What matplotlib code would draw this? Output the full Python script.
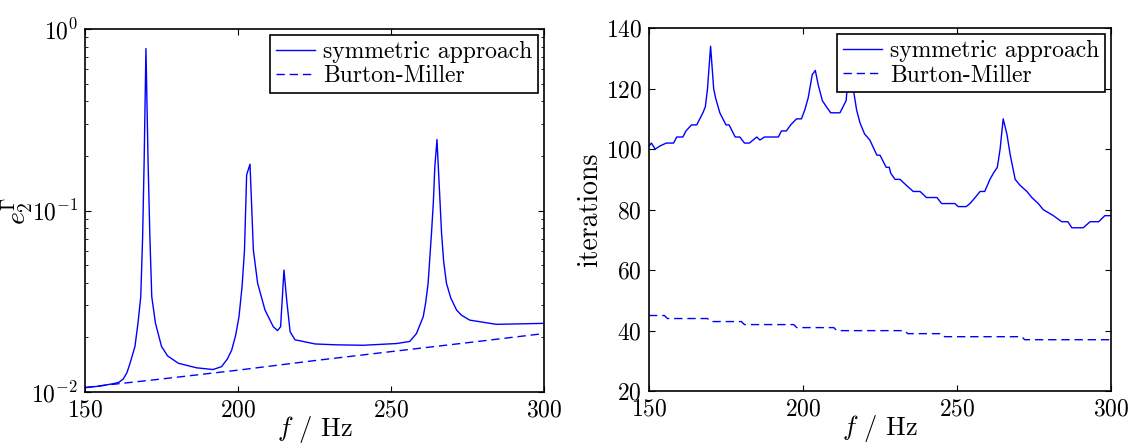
import matplotlib
matplotlib.use("Agg")
import matplotlib.pyplot as plt

# LaTeX-ish look
plt.rcParams['font.family'] = 'serif'
plt.rcParams['font.serif'] = ['cmr10']
plt.rcParams['mathtext.fontset'] = 'cm'
plt.rcParams['axes.formatter.use_mathtext'] = True
plt.rcParams['axes.unicode_minus'] = False

# left panel: error e_2^Gamma, symmetric approach
f_err_sym = [150, 155, 159, 161, 162.5, 163.7, 164.7, 166.3, 167.3, 168.2, 168.8, 169.3, 169.9,
             170.6, 171.2, 171.8, 173, 175, 177, 180.5, 186.4, 191.8, 194.6, 196.5,
             197.9, 199.2, 200.3, 201.3, 202.1, 202.8, 203.9, 204.5, 205, 206.4, 208.8,
             211.5, 212.9, 213.9, 215.0, 215.9, 217, 218.6, 225.2, 232, 240.9, 251.8,
             256.1, 258.3, 260.5, 261.3, 262.1, 263.2, 263.8, 264.3, 265, 265.7, 266.5,
             267.2, 268.1, 269.5, 271.4, 273, 275.7, 284.4, 300]
err_sym = [0.01056, 0.0108, 0.0111, 0.0113, 0.0118, 0.0128, 0.0144, 0.0178, 0.024, 0.0335, 0.07, 0.183,
           0.78, 0.183, 0.07, 0.0335, 0.024, 0.0178, 0.0158, 0.0144, 0.0136, 0.0133,
           0.0138, 0.0152, 0.017, 0.0205, 0.026, 0.038, 0.0605, 0.157, 0.180, 0.10,
           0.0605, 0.0397, 0.0283, 0.0229, 0.0218, 0.0229, 0.047, 0.032, 0.0215,
           0.0194, 0.0184, 0.0182, 0.0181, 0.0185, 0.019, 0.021, 0.026, 0.031, 0.0397,
           0.0748, 0.11, 0.174, 0.246, 0.141, 0.0748, 0.052, 0.0397, 0.033, 0.0283,
           0.0265, 0.0249, 0.0236, 0.0239]

# left panel: Burton-Miller
f_err_bm = [150, 175, 200, 225, 250, 275, 300]
err_bm = [0.0106, 0.0118, 0.0132, 0.0149, 0.0167, 0.0187, 0.021]

# right panel: iterations, symmetric approach
f_it_sym = [150, 150.8, 152, 153.5, 155.6, 158, 159, 161, 162, 163.8, 165.5, 166.5, 167.5,
            168.3, 169, 170, 171, 171.6, 173, 175, 176, 178, 179.5, 181, 182.6, 185, 186,
            187.5, 192, 193, 194.6, 196, 197.9, 199.5, 200.6, 201.7, 203, 204, 205, 206.3,
            207.6, 209, 212, 214, 214.7, 215.5, 216.3, 217.4, 218.5, 220, 221.7, 224, 225,
            227, 228, 228.5, 229.9, 231.5, 233.6, 235.8, 238, 240.1, 243.5, 245, 249.3,
            250.4, 253, 254.2, 255.9, 257.5, 259, 260.7, 261.8, 263.1, 264, 265, 266.2,
            267.3, 268.9, 270.5, 272.7, 274.3, 276.4, 278, 281.3, 284, 286, 287.3, 291,
            293.2, 296, 298, 300]
it_sym = [101, 102, 100, 101, 102, 102, 104, 104, 106, 108, 108, 110, 112,
          114, 120, 134, 120, 117, 112, 108, 108, 104, 104, 102, 102, 104, 103,
          104, 104, 106, 106, 108, 110, 110, 113, 117, 124.6, 126, 121, 116,
          114, 112, 112, 116, 124, 130, 120, 113, 108.7, 105, 103, 98, 98,
          94, 94, 92, 90, 90, 88, 86, 86, 84, 84, 82, 82,
          81, 81, 82, 84, 86, 86, 90, 92, 94, 100, 110, 105,
          98, 90, 88, 86, 84, 82, 80, 78, 76, 76, 74, 74,
          76, 76, 78, 78]

# right panel: iterations, Burton-Miller
f_it_bm = [150, 155, 156, 169, 170, 180, 181, 197, 198, 210, 211, 233, 234, 245, 246,
           271, 272, 300]
it_bm = [45, 45, 44, 44, 43, 43, 42, 42, 41, 41, 40, 40, 39, 39, 38, 38, 37, 37]

fig = plt.figure(figsize=(11.34, 4.46), dpi=100)
ax1 = fig.add_axes([0.075, 0.121, 0.4048, 0.814])
ax2 = fig.add_axes([0.5723, 0.123, 0.4074, 0.814])

ax1.semilogy(f_err_sym, err_sym, 'b-', lw=1, label='symmetric approach')
ax1.semilogy(f_err_bm, err_bm, 'b--', lw=1, dashes=(6, 3.5), label='Burton-Miller')
ax1.set_xlim(150, 300)
ax1.set_ylim(1e-2, 1e0)
ax1.set_xticks([150, 200, 250, 300])
ax1.set_xlabel(r'$f$ / Hz', fontsize=19, labelpad=-5)
ax1.set_ylabel(r'$e_2^\Gamma$', fontsize=20, labelpad=-3)

ax2.plot(f_it_sym, it_sym, 'b-', lw=1, label='symmetric approach')
ax2.plot(f_it_bm, it_bm, 'b--', lw=1, dashes=(6, 3.5), label='Burton-Miller')
ax2.set_xlim(150, 300)
ax2.set_ylim(20, 140)
ax2.set_xticks([150, 200, 250, 300])
ax2.set_yticks(range(20, 141, 20))
ax2.set_xlabel(r'$f$ / Hz', fontsize=19, labelpad=-5)
ax2.set_ylabel('iterations', fontsize=20, labelpad=2)

for ax in (ax1, ax2):
    ax.tick_params(which='both', direction='in', top=True, right=True, labelsize=17, pad=5)
    ax.tick_params(which='major', length=4)
    ax.tick_params(which='minor', length=2)
    for sp in ax.spines.values():
        sp.set_linewidth(1.2)
    leg = ax.legend(loc='upper right', fontsize=17, fancybox=False, framealpha=1,
                    handlelength=1.65, handletextpad=0.35, borderaxespad=0.25,
                    labelspacing=0.1, borderpad=0.25)
    leg.get_frame().set_edgecolor('black')
    leg.get_frame().set_linewidth(1.2)

fig.savefig('out.png', dpi=100)
